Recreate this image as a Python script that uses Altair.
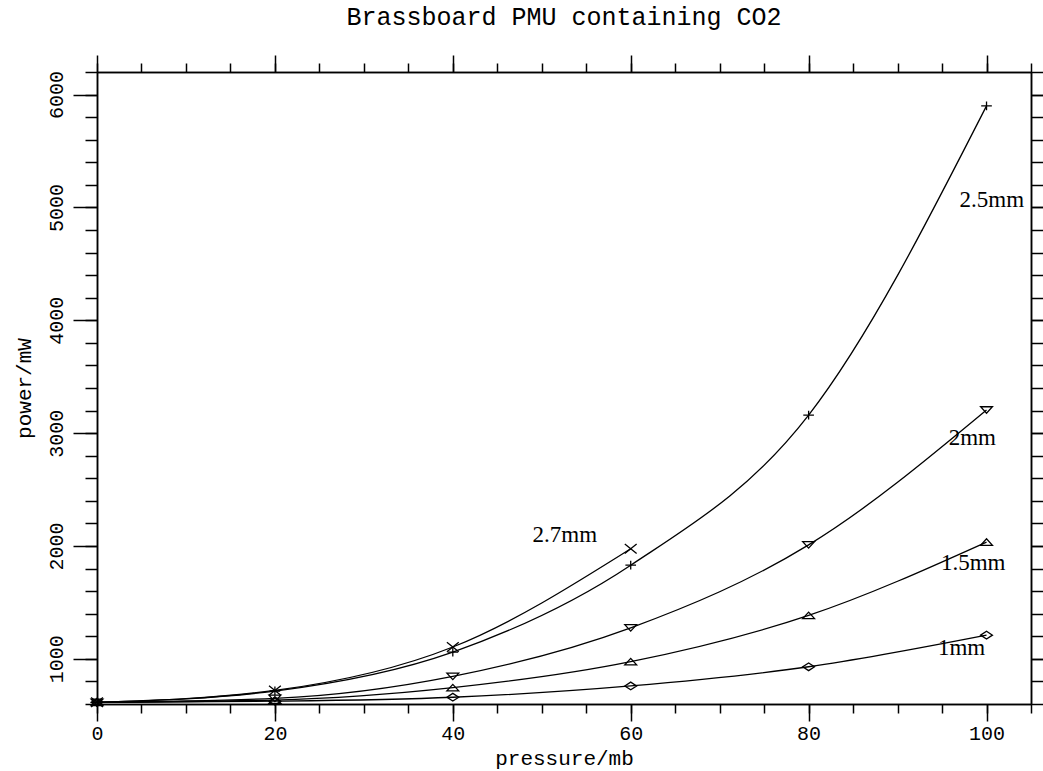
import altair as alt
import pandas as pd

# ---- data ----
PRESSURE = [0, 20, 40, 60, 80, 100]
SERIES = ["1mm", "1.5mm", "2mm", "2.5mm", "2.7mm"]
P_1MM = [615, 625, 660, 760, 930, 1210]
P_1_5MM = [615, 635, 745, 975, 1385, 2035]
P_2MM = [615, 650, 845, 1275, 2010, 3205]
P_2_5MM = [615, 715, 1060, 1830, 3160, 5900]
P_2_7MM = [615, 720, 1105, 1975]

LABEL_X = [97.2, 98.5, 98.4, 100.6, 52.6]
LABEL_Y = [1100, 1850, 2955, 5070, 2097]

X_MAJOR = [0, 20, 40, 60, 80, 100]
X_MINOR = [0, 5, 10, 15, 20, 25, 30, 35, 40, 45, 50, 55, 60, 65, 70, 75, 80, 85, 90, 95, 100, 105]
Y_MAJOR = [1000, 2000, 3000, 4000, 5000, 6000]
Y_MINOR = [600, 800, 1000, 1200, 1400, 1600, 1800, 2000, 2200, 2400, 2600, 2800, 3000,
           3200, 3400, 3600, 3800, 4000, 4200, 4400, 4600, 4800, 5000, 5200, 5400,
           5600, 5800, 6000, 6200]

rows = []
for name, vals in zip(SERIES, [P_1MM, P_1_5MM, P_2MM, P_2_5MM, P_2_7MM]):
    for p, v in zip(PRESSURE, vals):
        rows.append({"pressure": p, "power": v, "series": name})
df = pd.DataFrame(rows)
labels = pd.DataFrame({"pressure": LABEL_X, "power": LABEL_Y, "label": SERIES})

SHAPES = [
    "M-1,0L0,-0.65L1,0L0,0.65Z",          # diamond
    "M-1,0.55L1,0.55L0,-0.55Z",           # triangle up
    "M-1,-0.55L1,-0.55L0,0.55Z",          # triangle down
    "M-0.9,0H0.9M0,-0.75V0.75",           # plus
    "M-1,-0.8L1,0.8M-1,0.8L1,-0.8",       # cross
]

xs = alt.Scale(domain=[0, 105], nice=False, zero=False)
ys = alt.Scale(domain=[600, 6200], nice=False, zero=False)

MONO = "Liberation Mono"


def xaxis(orient, values, size, labels_on=False, title=None):
    kw = dict(orient=orient, values=values, tickSize=size, labels=labels_on,
              grid=False, labelFlush=False, labelOverlap=False, format="d")
    if title:
        kw.update(title=title, titlePadding=4)
    else:
        kw.update(title=None)
    if labels_on:
        kw.update(labelPadding=2)
    return alt.Axis(**kw)


def yaxis(orient, values, size, labels_on=False, title=None):
    kw = dict(orient=orient, values=values, tickSize=size, labels=labels_on,
              grid=False, labelFlush=False, labelOverlap=False, format="d")
    if title:
        kw.update(title=title, titlePadding=12)
    else:
        kw.update(title=None)
    if labels_on:
        kw.update(labelAngle=270, labelAlign="center", labelBaseline="bottom", labelPadding=7)
    return alt.Axis(**kw)


lines = alt.Chart(df).mark_line(interpolate="monotone", color="black", strokeWidth=1.3).encode(
    x=alt.X("pressure:Q", scale=xs, axis=xaxis("bottom", X_MAJOR, 17, True, "pressure/mb")),
    y=alt.Y("power:Q", scale=ys, axis=yaxis("left", Y_MAJOR, 24, True, "power/mW")),
    detail="series:N",
)

points = alt.Chart(df).mark_point(filled=False, color="black", strokeWidth=1.3, size=140, opacity=1).encode(
    x=alt.X("pressure:Q", scale=xs, axis=xaxis("bottom", X_MINOR, 9)),
    y=alt.Y("power:Q", scale=ys, axis=yaxis("left", Y_MINOR, 12)),
    shape=alt.Shape("series:N", scale=alt.Scale(domain=SERIES, range=SHAPES), legend=None),
)

texts = alt.Chart(labels).mark_text(font="Liberation Serif", fontSize=23, color="black",
                                    align="center", baseline="middle").encode(
    x=alt.X("pressure:Q", scale=xs, axis=xaxis("top", X_MAJOR, 17)),
    y=alt.Y("power:Q", scale=ys, axis=yaxis("right", Y_MAJOR, 24)),
    text="label:N",
)

ghost = alt.Chart(df).mark_point(opacity=0).encode(
    x=alt.X("pressure:Q", scale=xs, axis=xaxis("top", X_MINOR, 9)),
    y=alt.Y("power:Q", scale=ys, axis=yaxis("right", Y_MINOR, 12)),
)

chart = alt.layer(lines, points, texts, ghost).resolve_axis(
    x="independent", y="independent"
).properties(
    width=934,
    height=632,
    autosize=alt.AutoSizeParams(type="none"),
    padding={"left": 97, "top": 72, "right": 12, "bottom": 67},
    title=alt.Title("Brassboard PMU containing CO2", font=MONO, fontSize=25,
                    fontWeight="normal", color="black", anchor="middle",
                    baseline="alphabetic", offset=4),
    background="white",
).configure_view(stroke=None).configure_axis(
    domainColor="black", tickColor="black", domainWidth=1.5, tickWidth=1.5,
    labelFont=MONO, labelFontSize=20, labelColor="black",
    titleFont=MONO, titleFontSize=21, titleFontWeight="normal", titleColor="black",
)

chart.save("out.html", embed_options={"renderer": "svg", "actions": False})
